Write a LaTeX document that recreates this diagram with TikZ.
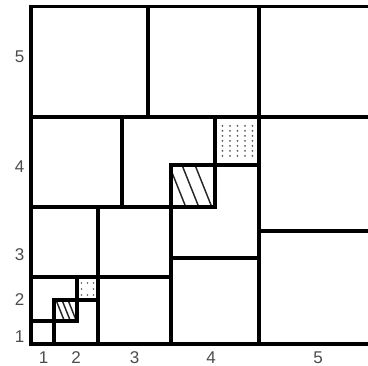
\documentclass[tikz,border=0pt]{standalone}
\usepackage{fontspec}
\setmainfont{Liberation Sans}
\begin{document}
\begin{tikzpicture}[x=1pt,y=-1pt,
  wall/.style={line width=3.3pt,line cap=rect,black},
  hatchline/.style={line width=1.4pt,black!85},
  dotmark/.style={fill=black!65},
  lab/.style={inner sep=0pt,text=black!70,font=\fontsize{17}{17}\selectfont}]
\useasboundingbox (0,0) rectangle (368,366);
\clip (0,0) rectangle (368,366);
\fill[white] (0,0) rectangle (368,366);
% hatching (big square 171-215 x 165-207)
\begin{scope}
  \clip (171,165) rectangle (215,207);
  \foreach \t in {169,182,195} \draw[hatchline] (\t,165) -- ({\t+16.8},207);
\end{scope}
% hatching (small square 54-77 x 300-321)
\begin{scope}
  \clip (54,300) rectangle (77,321);
  \foreach \t in {56,62,68} \draw[hatchline] (\t,300) -- ({\t+8.4},321);
\end{scope}
% dots big (215-259 x 117-165)
\foreach \i in {0,...,4} \foreach \j in {0,...,6}
  \fill[dotmark] ({222.5+7.5*\i},{126+5*\j}) circle (1pt);
% dots small (77-98 x 277-300), ring of eight
\foreach \i/\j in {0/0,1/0,2/0,0/1,2/1,0/2,1/2,2/2}
  \fill[dotmark] ({81.5+6*\i},{283+6*\j}) circle (0.9pt);
% horizontal walls
\draw[wall] (31,6.5) -- (372,6.5);
\draw[wall] (31,117) -- (372,117);
\draw[wall] (171,165) -- (259,165);
\draw[wall] (31,207) -- (215,207);
\draw[wall] (259,231) -- (372,231);
\draw[wall] (171,258) -- (259,258);
\draw[wall] (31,277) -- (171,277);
\draw[wall] (54,300) -- (98,300);
\draw[wall] (31,321) -- (77,321);
\draw[wall] (31,344) -- (372,344);
% vertical walls
\draw[wall] (31,6.5) -- (31,344);
\draw[wall] (148,6.5) -- (148,117);
\draw[wall] (259,6.5) -- (259,344);
\draw[wall] (122,117) -- (122,207);
\draw[wall] (215,117) -- (215,207);
\draw[wall] (171,165) -- (171,344);
\draw[wall] (98,207) -- (98,344);
\draw[wall] (77,277) -- (77,321);
\draw[wall] (54,300) -- (54,344);
% row labels
\node[lab] (r5) at (19.5,56.5) {5};
\node[lab] (r4) at (19.5,166.5) {4};
\node[lab] (r3) at (19.5,255) {3};
\node[lab] (r2) at (19.5,300) {2};
\node[lab] (r1) at (19.5,337) {1};
% column labels
\node[lab] (c1) at (43.5,357.5) {1};
\node[lab] (c2) at (76,357.5) {2};
\node[lab] (c3) at (134.5,357.5) {3};
\node[lab] (c4) at (211,357.5) {4};
\node[lab] (c5) at (318,357.5) {5};
\end{tikzpicture}
\end{document}
